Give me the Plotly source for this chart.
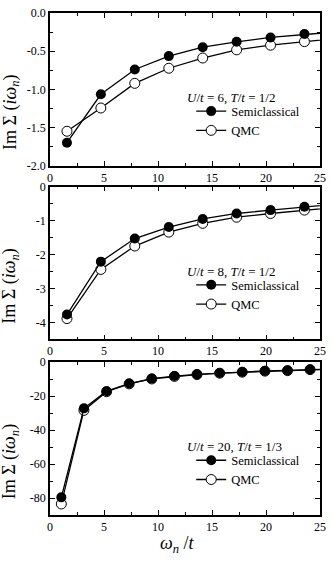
import plotly.graph_objects as go

# Matsubara frequencies omega_n/t (last point lies past the axis edge, clipped)
w_half = [1.57, 4.71, 7.85, 11.0, 14.14, 17.28, 20.42, 23.56, 26.70]
w_third = [1.05, 3.14, 5.24, 7.33, 9.42, 11.52, 13.61, 15.71, 17.80, 19.90, 21.99, 24.08, 26.18]

# U/t = 6, T/t = 1/2
semi_u6 = [-1.70, -1.065, -0.74, -0.565, -0.448, -0.377, -0.32, -0.276, -0.245]
qmc_u6 = [-1.55, -1.245, -0.922, -0.724, -0.59, -0.483, -0.422, -0.375, -0.33]

# U/t = 8, T/t = 1/2
semi_u8 = [-3.77, -2.21, -1.53, -1.19, -0.95, -0.79, -0.69, -0.59, -0.51]
qmc_u8 = [-3.89, -2.44, -1.75, -1.34, -1.08, -0.90, -0.79, -0.69, -0.60]

# U/t = 20, T/t = 1/3
semi_u20 = [-79.6, -27.2, -17.1, -12.6, -9.7, -8.2, -7.2, -6.4, -5.8, -5.2, -4.9, -4.3, -4.0]
qmc_u20 = [-83.5, -28.4, -17.4, -12.8, -9.9, -8.4, -7.3, -6.5, -5.9, -5.3, -5.0, -4.4, -4.1]

# tick labels
x_ticks = [0, 5, 10, 15, 20, 25]
y1_vals = [0, -0.5, -1.0, -1.5, -2.0]
y1_text = ["0.0", "-0.5", "-1.0", "-1.5", "-2.0"]
y2_vals = [0, -1, -2, -3, -4]
y2_text = ["0", "-1", "-2", "-3", "-4"]
y3_vals = [0, -20, -40, -60, -80]
y3_text = ["0", "-20", "-40", "-60", "-80"]

panel_labels = ["<i>U</i>/<i>t</i> = 6, <i>T</i>/<i>t</i> = 1/2",
                "<i>U</i>/<i>t</i> = 8, <i>T</i>/<i>t</i> = 1/2",
                "<i>U</i>/<i>t</i> = 20, <i>T</i>/<i>t</i> = 1/3"]

FONT = "Liberation Serif, Times New Roman, serif"
PLOT_H = 509  # plot area height in px (561 - t - b)

fig = go.Figure()

panels = [
    (w_half, semi_u6, qmc_u6, "", "legend"),
    (w_half, semi_u8, qmc_u8, "2", "legend2"),
    (w_third, semi_u20, qmc_u20, "3", "legend3"),
]
for x, semi, qmc, ax, leg in panels:
    # QMC first so the filled semiclassical markers sit on top
    fig.add_trace(go.Scatter(
        x=x, y=qmc, name="QMC", mode="lines+markers", legendrank=2,
        line=dict(color="black", width=1.3),
        marker=dict(symbol="circle", size=10, color="white",
                    line=dict(color="black", width=1)),
        xaxis="x" + ax, yaxis="y" + ax, legend=leg))
    fig.add_trace(go.Scatter(
        x=x, y=semi, name="Semiclassical", mode="lines+markers", legendrank=1,
        line=dict(color="black", width=1.3),
        marker=dict(symbol="circle", size=10, color="black"),
        xaxis="x" + ax, yaxis="y" + ax, legend=leg))

axis_common = dict(
    showline=True, linecolor="black", linewidth=1.5, mirror="ticks",
    ticks="inside", ticklen=5, tickwidth=1, tickcolor="black",
    showgrid=False, zeroline=False,
    tickfont=dict(family=FONT, size=12, color="black"),
)

domains = [[0.696, 1.0], [0.350, 0.654], [0.0, 0.3045]]
yvals = [(y1_vals, y1_text, [-2.0, 0.0], 0.25),
         (y2_vals, y2_text, [-4.5, 0.0], 0.5),
         (y3_vals, y3_text, [-90, 0], 10)]

layout = dict(
    width=332, height=561,
    margin=dict(l=50, r=7, t=6, b=46),
    paper_bgcolor="white", plot_bgcolor="white",
    font=dict(family=FONT, size=12, color="black"),
)
for i, (dom, (yv, yt, yr, ymin)) in enumerate(zip(domains, yvals)):
    s = "" if i == 0 else str(i + 1)
    layout["xaxis" + s] = dict(
        axis_common, domain=[0, 1], anchor="y" + s, range=[0, 25],
        tickmode="array", tickvals=x_ticks,
        minor=dict(ticks="inside", ticklen=3, dtick=2.5, tick0=0, tickcolor="black"))
    layout["yaxis" + s] = dict(
        axis_common, domain=dom, anchor="x" + s, range=yr,
        tickmode="array", tickvals=yv, ticktext=yt,
        minor=dict(ticks="inside", ticklen=3, dtick=ymin, tick0=0, tickcolor="black"))

    leg = "legend" if i == 0 else "legend" + str(i + 1)
    layout[leg] = dict(
        x=0.523, y=dom[1] - 109.5 / PLOT_H,
        xanchor="left", yanchor="middle",
        bgcolor="rgba(0,0,0,0)", borderwidth=0,
        font=dict(family=FONT, size=12.5, color="black"),
        itemwidth=30, tracegroupgap=0)

fig.update_layout(**layout)

for i, dom in enumerate(domains):
    # panel condition labels
    fig.add_annotation(
        text=panel_labels[i], xref="paper", yref="paper",
        x=0.5, y=dom[1] - 86 / PLOT_H,
        xanchor="left", yanchor="middle", showarrow=False,
        font=dict(family=FONT, size=13, color="black"))
    # y-axis titles
    fig.add_annotation(
        text="Im Σ (<i>iω</i><sub><i>n</i></sub>)", xref="paper", yref="paper",
        x=-0.145, y=dom[0] + 0.35 * (dom[1] - dom[0]),
        xanchor="center", yanchor="middle", textangle=-90, showarrow=False,
        font=dict(family=FONT, size=18, color="black"))

# x-axis title
fig.add_annotation(
    text="<i>ω</i><sub><i>n</i></sub> /<i>t</i>", xref="paper", yref="paper",
    x=0.473, y=-0.059, xanchor="center", yanchor="middle", showarrow=False,
    font=dict(family=FONT, size=18, color="black"))

# drop the default 8px page margin so the figure sits at the window's corner
fig.write_html("out.html",
               config={"displayModeBar": False},
               post_script="document.body.style.margin='0';"
                           "document.body.style.overflow='hidden';")
